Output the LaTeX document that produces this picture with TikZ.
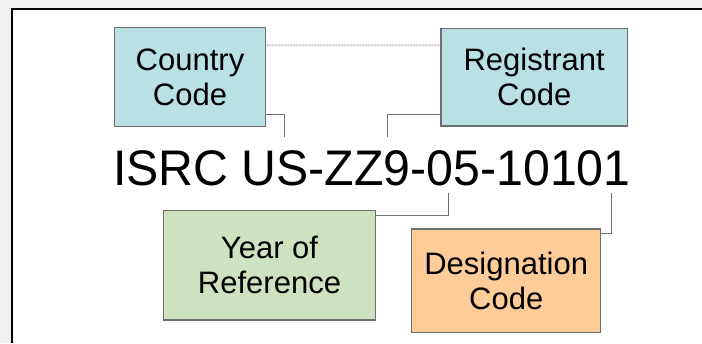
\documentclass[tikz,border=0pt]{standalone}
\usepackage{fontspec}
\setmainfont{Liberation Sans}
\newfontfamily\bigfont[FakeStretch=0.965]{Liberation Sans}
\definecolor{bggray}{RGB}{241,241,241}
\definecolor{boxblue}{RGB}{185,225,228}
\definecolor{boxgreen}{RGB}{207,226,192}
\definecolor{boxorange}{RGB}{253,204,153}
\definecolor{boxline}{RGB}{110,110,110}
\definecolor{connline}{RGB}{112,112,112}
\definecolor{dotline}{RGB}{200,200,200}
\begin{document}
\begin{tikzpicture}[x=1pt,y=-1pt,
  box/.style={draw=boxline, line width=1.2pt, align=center, inner sep=0pt,
    font=\fontsize{31}{35}\selectfont},
  conn/.style={draw=connline, line width=1pt},
  dotconn/.style={draw=dotline, line width=2pt, densely dotted}]
\useasboundingbox (0,0) rectangle (702,343);
\fill[bggray] (0,0) rectangle (702,343);
\fill[white] (11.5,9.3) rectangle (702,343);
\draw[line width=2pt] (11.5,343) -- (11.5,9.3) -- (702,9.3);

\node[box, fill=boxblue, minimum width=151.7pt, minimum height=99.4pt] (cc) at (190,77) {Country\\Code};
\node[box, fill=boxblue, minimum width=186.3pt, minimum height=97.7pt] (rc) at (534.2,77.2) {Registrant\\Code};
\node[box, fill=boxgreen, minimum width=212.4pt, minimum height=109.3pt] (yr) at (269.5,265.4) {Year of\\Reference};
\node[box, fill=boxorange, minimum width=189pt, minimum height=103.7pt] (dc) at (506.2,280.9) {Designation\\Code};

\node[anchor=base west, inner sep=0pt, font=\bigfont\fontsize{50}{50}\selectfont] (isrc) at (113,185.7) {ISRC US-ZZ9-05-10101};

\coordinate (pcc) at (284.3,137);
\coordinate (prc) at (387.3,137);
\coordinate (pyr) at (448.3,193);
\coordinate (pdc) at (611.7,193);

\draw[dotconn] ([yshift=-18.7pt]cc.north east) -- ([yshift=-17.7pt]rc.north west);
\draw[conn] ([yshift=12.4pt]cc.south east) -| (pcc);
\draw[conn] ([yshift=12pt]rc.south west) -| (prc);
\draw[conn] ([yshift=-5.3pt]yr.north east) -| (pyr);
\draw[conn] ([yshift=-5pt]dc.north east) -| (pdc);
\end{tikzpicture}
\end{document}
